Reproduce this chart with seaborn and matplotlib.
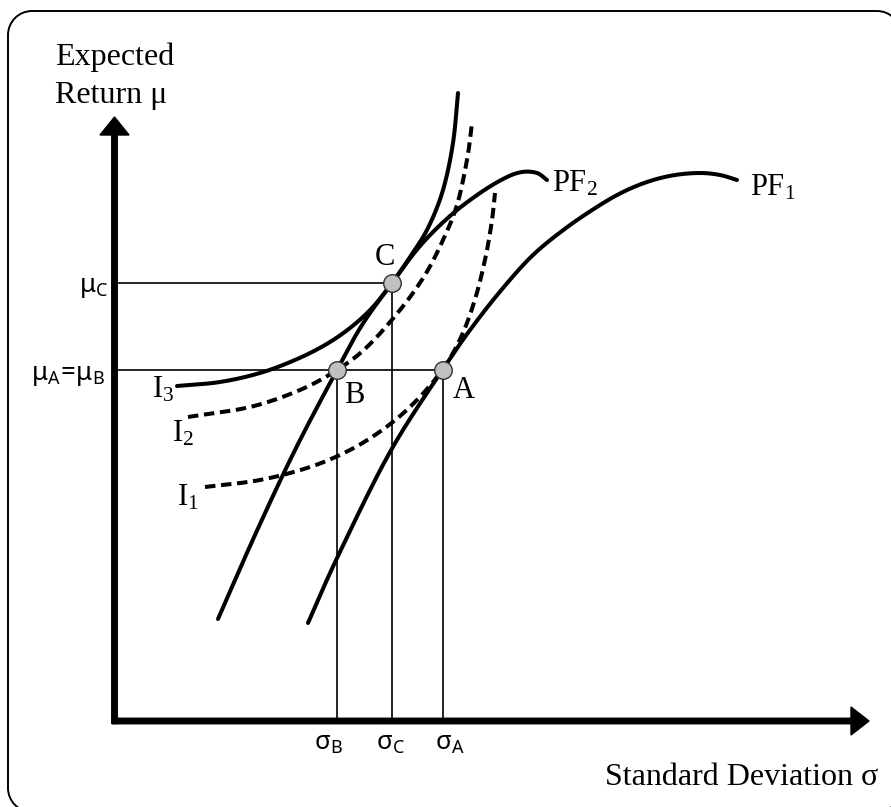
import numpy as np
import matplotlib
matplotlib.use("Agg")
import matplotlib.pyplot as plt
from matplotlib.patches import Arc
import seaborn as sns

# chart units: sigma to the right, mu measured downward (axis is inverted)
axis_x = 114.5          # position of the mu axis
axis_y = 721            # position of the sigma axis
axis_top = 117
axis_right = 869

# portfolio frontiers
pf1_sigma = [308, 338, 390, 443, 473, 503, 533, 566, 600, 625, 650, 675, 700, 720, 737]
pf1_mu = [623, 556, 452, 369, 326, 288, 255, 228, 205, 191, 181, 175, 173, 175, 180]
pf2_sigma = [218, 255, 295, 337, 362, 392, 420, 450, 480, 505, 522, 537, 547]
pf2_mu = [619, 535, 450, 370, 325, 283, 246, 216, 193, 178, 172, 173, 180]

# indifference curves
i3_sigma = [177, 220, 260, 295, 325, 350, 372, 392, 410, 428, 443, 453, 458]
i3_mu = [386, 382, 373, 360, 345, 328, 308, 283, 257, 228, 190, 143, 93]
i2_sigma = [188, 250, 300, 337, 367, 400, 425, 443, 457, 467, 472]
i2_mu = [417, 407, 390, 370, 347, 310, 275, 240, 205, 160, 123]
i1_sigma = [205, 260, 310, 350, 385, 415, 443, 462, 476, 486, 492, 495]
i1_mu = [487, 480, 467, 450, 428, 402, 369, 335, 296, 255, 220, 193]

# optimum points
point_names = ["A", "B", "C"]
point_sigma = [443, 337, 392]
point_mu = [370, 370, 283]

# frame: left, top, right, bottom, corner radius
frame = (8, 11, 901, 812, 24)


def smooth(xs, ys, n=24):
    # catmull-rom through the read points, only to draw a smooth stroke
    p = np.column_stack([xs, ys]).astype(float)
    p = np.vstack([2 * p[0] - p[1], p, 2 * p[-1] - p[-2]])
    t = np.linspace(0, 1, n, endpoint=False)[:, None]
    out = []
    for i in range(1, len(p) - 2):
        p0, p1, p2, p3 = p[i - 1], p[i], p[i + 1], p[i + 2]
        seg = 0.5 * (2 * p1 + (-p0 + p2) * t
                     + (2 * p0 - 5 * p1 + 4 * p2 - p3) * t ** 2
                     + (-p0 + 3 * p1 - 3 * p2 + p3) * t ** 3)
        out.append(seg)
    out.append(p[-2][None, :])
    s = np.vstack(out)
    return s[:, 0], s[:, 1]


sns.set_style("white")
plt.rcParams["font.family"] = ["Liberation Serif", "DejaVu Serif"]
plt.rcParams["text.color"] = "black"

fig = plt.figure(figsize=(8.91, 8.07), dpi=100)
ax = fig.add_axes([0, 0, 1, 1])
ax.set_xlim(0, 891)
ax.set_ylim(807, 0)
ax.set_axis_off()

# rounded frame
fl, ft, fr, fb, rr = frame
fkw = dict(color="black", lw=1.4, zorder=1)
ax.plot([fl, fl], [ft + rr, fb - rr], **fkw)
ax.plot([fr, fr], [ft + rr, fb - rr], **fkw)
ax.plot([fl + rr, fr - rr], [ft, ft], **fkw)
ax.plot([fl + rr, fr - rr], [fb, fb], **fkw)
for cx, cy, a0 in [(fl + rr, ft + rr, 180), (fr - rr, ft + rr, 270),
                   (fr - rr, fb - rr, 0), (fl + rr, fb - rr, 90)]:
    ax.add_patch(Arc((cx, cy), 2 * rr, 2 * rr, theta1=a0, theta2=a0 + 90,
                     ec="black", lw=1.4, zorder=1))

# guide lines
ax.hlines([point_mu[0], point_mu[2]], axis_x, [point_sigma[0], point_sigma[2]],
          color="black", lw=1.2, zorder=2)
ax.vlines(point_sigma, point_mu, axis_y, color="black", lw=1.2, zorder=2)

curve_lw = 2.9
for xs, ys, ls in [(pf1_sigma, pf1_mu, "-"), (pf2_sigma, pf2_mu, "-"),
                   (i3_sigma, i3_mu, "-"),
                   (i2_sigma, i2_mu, (0, (2.6, 1.4))),
                   (i1_sigma, i1_mu, (0, (2.6, 1.4)))]:
    sx, sy = smooth(xs, ys)
    sns.lineplot(x=sx, y=sy, sort=False, estimator=None, ax=ax, color="black",
                 lw=curve_lw, linestyle=ls, zorder=3)

sns.scatterplot(x=point_sigma, y=point_mu, ax=ax, s=160, color="#c0c0c0",
                edgecolor="#303030", linewidth=1.0, zorder=5)

# axes with arrows
ax.arrow(axis_x, axis_y + 2.5, 0, axis_top - axis_y - 2.5, width=5.5, head_width=29,
         head_length=18, length_includes_head=True, color="black", zorder=6)
ax.arrow(axis_x - 2.5, axis_y, axis_right - axis_x + 2.5, 0, width=5.5, head_width=28,
         head_length=18, length_includes_head=True, color="black", zorder=6)

serif = 22
ax.text(55, 65, "Expected", fontsize=23, ha="left", va="baseline")
ax.text(55, 103, "Return μ", fontsize=23, ha="left", va="baseline")
ax.text(878, 785, "Standard Deviation σ", fontsize=23, ha="right", va="baseline")

ax.text(385, 265, "C", fontsize=serif, ha="center", va="baseline")
ax.text(354, 403, "B", fontsize=serif, ha="center", va="baseline")
ax.text(464, 398, "A", fontsize=serif, ha="center", va="baseline")
ax.text(552, 192, r"$\mathregular{PF_2}$", fontsize=serif, ha="left", va="baseline")
ax.text(750, 195, r"$\mathregular{PF_1}$", fontsize=serif, ha="left", va="baseline")
ax.text(152, 397, r"$\mathregular{I_3}$", fontsize=serif, ha="left", va="baseline")
ax.text(172, 442, r"$\mathregular{I_2}$", fontsize=serif, ha="left", va="baseline")
ax.text(177, 505, r"$\mathregular{I_1}$", fontsize=serif, ha="left", va="baseline")

sans = dict(family="Noto Sans", fontsize=18.5)
ax.text(108, 292, r"$\mathregular{μ_C}$", ha="right", va="baseline", **sans)
ax.text(105, 380, r"$\mathregular{μ_A\!=\!μ_B}$", ha="right", va="baseline", **sans)
for name, s, dx in zip(point_names, point_sigma, [7, -9, -2]):
    ax.text(s + dx, 750, r"$\mathregular{σ_%s}$" % name, ha="center", va="baseline", **sans)

fig.savefig("out.png", dpi=100)
